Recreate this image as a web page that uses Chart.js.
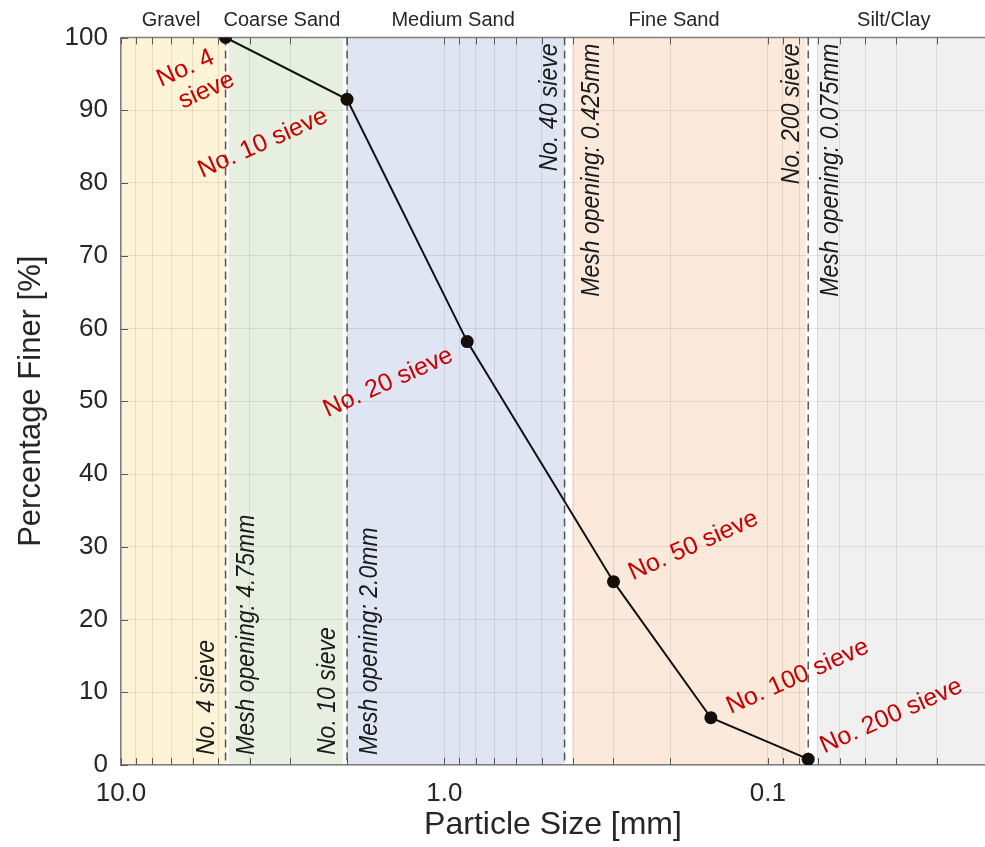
<!DOCTYPE html>
<html>
<head>
<meta charset="utf-8">
<script src="https://cdn.jsdelivr.net/npm/chart.js@4.4.1/dist/chart.umd.min.js"></script>
<style>
  html, body { margin: 0; padding: 0; background: #ffffff; }
  #wrap { width: 985px; height: 847px; }
</style>
</head>
<body>
<div id="wrap"><canvas id="c" width="985" height="847"></canvas></div>
<script>
// ---------------- DATA ----------------
const sieveNames    = ['No. 4', 'No. 10', 'No. 20', 'No. 50', 'No. 100', 'No. 200'];
const particleSize  = [4.75, 2.0, 0.85, 0.3, 0.15, 0.075];      // mm
const percentFiner  = [100, 91.5, 58.2, 25.2, 6.5, 0.8];        // %

const zoneNames     = ['Gravel', 'Coarse Sand', 'Medium Sand', 'Fine Sand', 'Silt/Clay'];
const zoneFrom      = [10, 4.64, 2.0, 0.403, 0.0706];
const zoneTo        = [4.74, 2.06, 0.424, 0.0763, 0.0213];
const zoneLabelAt   = [7.0, 3.18, 0.94, 0.195, 0.0408];
const zoneColors    = ['#fdf3d7', '#e7f0e0', '#dfe5f2', '#fbe9dc', '#f0f0f0'];

const sieveLineSizes = [4.75, 2.0, 0.425, 0.075];
const sieveLineNames = ['No. 4 sieve', 'No. 10 sieve', 'No. 40 sieve', 'No. 200 sieve'];
const meshLabels     = ['Mesh opening: 4.75mm', 'Mesh opening: 2.0mm', 'Mesh opening: 0.425mm', 'Mesh opening: 0.075mm'];

const xTickValues = [10, 9, 8, 7, 6, 5, 4, 3, 2,
                     1, 0.9, 0.8, 0.7, 0.6, 0.5, 0.4, 0.3, 0.2,
                     0.1, 0.09, 0.08, 0.07, 0.06, 0.05, 0.04, 0.03];
const xTickLabelValues = [10, 1, 0.1];
const xTickLabels      = ['10.0', '1.0', '0.1'];
const xMin = 0.0213, xMax = 10;
const yMin = 0, yMax = 100, yStep = 10;

// ---------------- STYLE ----------------
const FONT = "'Liberation Sans', Arial, Helvetica, sans-serif";
const TEXT = '#262626';
const sty = {
  sieveAnchor: ['bottom', 'bottom', 'top', 'top'],
  sieveGapLeft: [12, 12, 8, 9],
  meshGapRight: [28, 30, 34, 30],
  textStretch: 1.1,
  redLabelLines: [['No. 4', 'sieve'], ['No. 10 sieve'], ['No. 20 sieve'], ['No. 50 sieve'], ['No. 100 sieve'], ['No. 200 sieve']],
  redOffsets: [[[-40, 31], [-19, 53]], [[-84, 44]], [[-79, 41]], [[80, -36]], [[87, -41]], [[83, -43]]],
  redAngle: -24 * Math.PI / 180
};

const gsdPlugin = {
  id: 'gsd',
  beforeDraw(chart) {
    const { ctx, chartArea: a, scales: { x } } = chart;
    ctx.save();
    for (let i = 0; i < zoneNames.length; i++) {
      const x1 = x.getPixelForValue(zoneFrom[i]);
      const x2 = x.getPixelForValue(zoneTo[i]);
      ctx.fillStyle = zoneColors[i];
      ctx.fillRect(Math.min(x1, x2), a.top, Math.abs(x2 - x1), a.bottom - a.top);
    }
    ctx.fillStyle = TEXT;
    ctx.font = `20px ${FONT}`;
    ctx.textAlign = 'center';
    ctx.textBaseline = 'middle';
    for (let i = 0; i < zoneNames.length; i++) {
      ctx.fillText(zoneNames[i], x.getPixelForValue(zoneLabelAt[i]), 20);
    }
    ctx.restore();
  },
  beforeDatasetsDraw(chart) {
    const { ctx, chartArea: a, scales: { x, y } } = chart;
    ctx.save();
    // top border
    ctx.strokeStyle = '#808080';
    ctx.lineWidth = 1.5;
    ctx.beginPath();
    ctx.moveTo(a.left, a.top);
    ctx.lineTo(a.right, a.top);
    ctx.stroke();
    // inner ticks
    ctx.strokeStyle = '#5a5a5a';
    ctx.lineWidth = 1;
    ctx.beginPath();
    x.ticks.forEach(t => {
      const px = Math.round(x.getPixelForValue(t.value)) + 0.5;
      ctx.moveTo(px, a.bottom); ctx.lineTo(px, a.bottom - 7);
      ctx.moveTo(px, a.top); ctx.lineTo(px, a.top + 7);
    });
    y.ticks.forEach(t => {
      const py = Math.round(y.getPixelForValue(t.value)) + 0.5;
      ctx.moveTo(a.left, py); ctx.lineTo(a.left + 7, py);
    });
    ctx.stroke();
    // dashed sieve lines
    ctx.strokeStyle = '#555555';
    ctx.lineWidth = 1.5;
    ctx.setLineDash([8, 5]);
    sieveLineSizes.forEach(v => {
      const px = x.getPixelForValue(v);
      ctx.beginPath();
      ctx.moveTo(px, a.top);
      ctx.lineTo(px, a.bottom);
      ctx.stroke();
    });
    ctx.setLineDash([]);
    // rotated labels
    ctx.fillStyle = '#1a1a1a';
    ctx.font = `italic 23px ${FONT}`;
    ctx.textBaseline = 'alphabetic';
    sieveLineSizes.forEach((v, i) => {
      const px = x.getPixelForValue(v);
      const bottom = sty.sieveAnchor[i] === 'bottom';
      const yy = bottom ? a.bottom - 10 : a.top + 6;
      ctx.textAlign = bottom ? 'left' : 'right';
      ctx.save();
      ctx.translate(px - sty.sieveGapLeft[i], yy);
      ctx.scale(sty.textStretch, 1);
      ctx.rotate(-Math.PI / 2);
      ctx.fillText(sieveLineNames[i], 0, 0);
      ctx.restore();
      ctx.save();
      ctx.translate(px + sty.meshGapRight[i], yy);
      ctx.scale(sty.textStretch, 1);
      ctx.rotate(-Math.PI / 2);
      ctx.fillText(meshLabels[i], 0, 0);
      ctx.restore();
    });
    ctx.restore();
  },
  afterDatasetsDraw(chart) {
    const { ctx, scales: { x, y } } = chart;
    ctx.save();
    ctx.fillStyle = '#c80000';
    ctx.font = `25px ${FONT}`;
    ctx.textAlign = 'center';
    ctx.textBaseline = 'middle';
    particleSize.forEach((v, i) => {
      const px = x.getPixelForValue(v);
      const py = y.getPixelForValue(percentFiner[i]);
      sty.redLabelLines[i].forEach((line, j) => {
        const [dx, dy] = sty.redOffsets[i][j];
        ctx.save();
        ctx.translate(px + dx, py + dy);
        ctx.rotate(sty.redAngle);
        ctx.fillText(line, 0, 0);
        ctx.restore();
      });
    });
    ctx.restore();
  }
};

new Chart(document.getElementById('c'), {
  type: 'line',
  data: {
    datasets: [{
      label: 'Percentage Finer',
      data: particleSize.map((v, i) => ({ x: v, y: percentFiner[i] })),
      borderColor: '#111111',
      borderWidth: 2,
      pointRadius: 6.5,
      pointBackgroundColor: '#140f0a',
      pointBorderColor: '#140f0a',
      pointBorderWidth: 0,
      tension: 0,
      fill: false
    }]
  },
  options: {
    responsive: false,
    animation: false,
    devicePixelRatio: 1,
    layout: { autoPadding: false, padding: { top: 37.5, right: 0, bottom: 0, left: 0 } },
    plugins: { legend: { display: false }, tooltip: { enabled: false } },
    scales: {
      x: {
        type: 'logarithmic',
        position: 'bottom',
        reverse: true,
        min: xMin,
        max: xMax,
        afterBuildTicks: s => { s.ticks = xTickValues.map(v => ({ value: v })); },
        afterFit: s => { s.height = 82; },
        ticks: {
          autoSkip: false, maxRotation: 0, minRotation: 0, padding: 13,
          color: TEXT, font: { size: 26, family: FONT },
          callback: (v) => { const k = xTickLabelValues.indexOf(v); return k >= 0 ? xTickLabels[k] : ''; }
        },
        grid: { color: 'rgba(0,0,0,0.09)', lineWidth: 1, drawTicks: false },
        border: { display: true, color: '#808080', width: 1.5 },
        title: { display: true, text: 'Particle Size [mm]', color: TEXT, font: { size: 32, family: FONT }, padding: { top: 0, bottom: 3 } }
      },
      y: {
        type: 'linear',
        min: yMin, max: yMax,
        afterFit: s => { s.width = 121; },
        ticks: { stepSize: yStep, padding: 13, color: TEXT, font: { size: 26, family: FONT } },
        grid: { color: 'rgba(0,0,0,0.09)', lineWidth: 1, drawTicks: false },
        border: { display: true, color: '#808080', width: 1.5 },
        title: { display: true, text: 'Percentage Finer [%]', color: TEXT, font: { size: 31, family: FONT }, padding: { top: 13, bottom: 0 } }
      }
    }
  },
  plugins: [gsdPlugin]
});
</script>
</body>
</html>
